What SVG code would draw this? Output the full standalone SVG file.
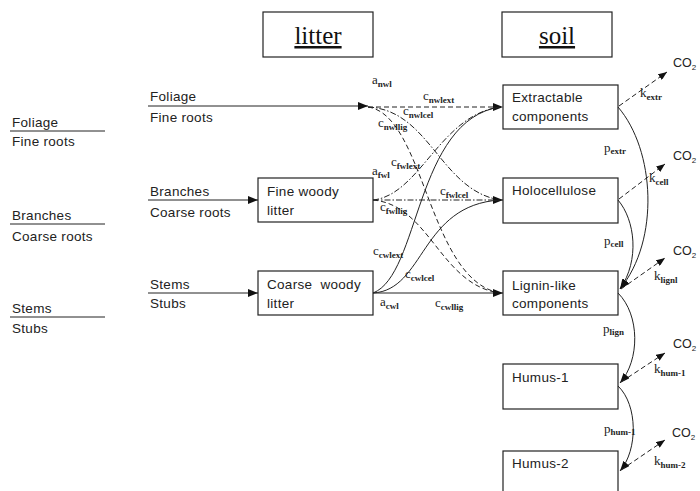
<svg xmlns="http://www.w3.org/2000/svg" width="700" height="491" viewBox="0 0 700 491">
<defs>
<marker id="ah" viewBox="0 0 10 8" refX="10" refY="4" markerWidth="10" markerHeight="8" markerUnits="userSpaceOnUse" orient="auto"><path d="M0,0 L10,4 L0,8 z" fill="#111"/></marker>
<marker id="ahs" viewBox="0 0 10 8" refX="10" refY="4" markerWidth="9" markerHeight="7" markerUnits="userSpaceOnUse" orient="auto"><path d="M0,0 L10,4 L0,8 z" fill="#111"/></marker>
</defs>
<style>
.t{font-family:"Liberation Sans",Arial,sans-serif;font-size:13.5px;letter-spacing:0.3px;fill:#222}
.co{font-family:"Liberation Sans",Arial,sans-serif;font-size:12.5px;fill:#222}
.s{font-family:"Liberation Serif","Times New Roman",serif;font-size:13px;fill:#222}
.sub{font-size:9px;font-weight:bold}
.h{font-family:"Liberation Serif","Times New Roman",serif;font-size:25px;fill:#111;text-decoration:underline}
.box{fill:#fff;stroke:#222;stroke-width:1.2}
.ln{fill:none;stroke:#222;stroke-width:1}
.dash{stroke-dasharray:5 3}
.dd{stroke-dasharray:6 2 1.5 2}
</style>
<rect width="700" height="491" fill="#fff"/>

<g id="header-litter"><rect class="box" x="263" y="12" width="110" height="45"/><text class="h" x="318" y="44" text-anchor="middle">litter</text></g>
<g id="header-soil"><rect class="box" x="502" y="12" width="110" height="45"/><text class="h" x="557" y="44" text-anchor="middle">soil</text></g>

<g id="inputs-left">
<text class="t" x="12" y="127">Foliage</text><line class="ln" x1="10" y1="131" x2="105" y2="131"/><text class="t" x="12" y="146">Fine roots</text>
<text class="t" x="12" y="220">Branches</text><line class="ln" x1="10" y1="224" x2="105" y2="224"/><text class="t" x="12" y="241">Coarse roots</text>
<text class="t" x="12" y="313">Stems</text><line class="ln" x1="10" y1="317" x2="105" y2="317"/><text class="t" x="12" y="333">Stubs</text>
</g>

<g id="input-foliage"><text class="t" x="150" y="101">Foliage</text><text class="t" x="150" y="122">Fine roots</text></g>
<g id="input-branches"><text class="t" x="150" y="196">Branches</text><text class="t" x="150" y="217">Coarse roots</text></g>
<g id="input-stems"><text class="t" x="150" y="289">Stems</text><text class="t" x="150" y="308">Stubs</text></g>

<g id="fine-woody-litter"><rect class="box" x="258" y="178" width="115" height="44"/><text class="t" x="267" y="196">Fine woody</text><text class="t" x="267" y="215">litter</text></g>
<g id="coarse-woody-litter"><rect class="box" x="258" y="271" width="115" height="44"/><text class="t" x="267" y="289" xml:space="preserve">Coarse  woody</text><text class="t" x="267" y="308">litter</text></g>

<g id="extractable"><rect class="box" x="503" y="85" width="115" height="44"/><text class="t" x="512" y="102">Extractable</text><text class="t" x="512" y="121">components</text></g>
<g id="holocellulose"><rect class="box" x="503" y="178" width="115" height="45"/><text class="t" x="512" y="195">Holocellulose</text></g>
<g id="lignin"><rect class="box" x="503" y="271" width="115" height="44"/><text class="t" x="512" y="290">Lignin-like</text><text class="t" x="512" y="308">components</text></g>
<g id="humus-1"><rect class="box" x="503" y="364" width="115" height="45"/><text class="t" x="512" y="382">Humus-1</text></g>
<g id="humus-2"><rect class="box" x="503" y="451" width="115" height="50"/><text class="t" x="512" y="468">Humus-2</text></g>

<g id="connectors">
<line class="ln" x1="148" y1="106" x2="368" y2="106" marker-end="url(#ah)"/>
<line class="ln" x1="148" y1="200" x2="258" y2="200" marker-end="url(#ah)"/>
<line class="ln" x1="148" y1="293" x2="258" y2="293" marker-end="url(#ah)"/>

<path class="ln dash" d="M368,107 L503,107" marker-end="url(#ah)"/>
<path class="ln dd" d="M368,107 C430,110 440,190 500,200"/>
<path class="ln dash" d="M368,107 C425,115 428,280 500,293"/>

<path class="ln dd" d="M373,200 C420,195 440,115 500,107"/>
<path class="ln dd" d="M373,200 L503,200" marker-end="url(#ah)"/>
<path class="ln dash" d="M373,200 C430,205 440,285 500,293"/>

<path class="ln" d="M373,293 C420,275 415,120 500,107"/>
<path class="ln" d="M373,293 C425,290 420,205 500,200"/>
<path class="ln" d="M373,293 L503,293" marker-end="url(#ah)"/>

<path class="ln" d="M618,107 C655,150 660,240 620,289" marker-end="url(#ah)"/>
<path class="ln" d="M618,200 C635,220 640,260 620,289" marker-end="url(#ah)"/>
<path class="ln" d="M618,293 C640,315 640,360 620,383" marker-end="url(#ah)"/>
<path class="ln" d="M618,386 C638,405 638,450 620,471" marker-end="url(#ah)"/>

<path class="ln dash" d="M619,106 L667,72" marker-end="url(#ahs)"/>
<path class="ln dash" d="M619,199 L665,164" marker-end="url(#ahs)"/>
<path class="ln dash" d="M621,289 L665,258" marker-end="url(#ahs)"/>
<path class="ln dash" d="M621,382 L665,353" marker-end="url(#ahs)"/>
<path class="ln dash" d="M621,470 L665,440" marker-end="url(#ahs)"/>
</g>

<g id="flow-labels">
<text class="s" x="372" y="84">a<tspan class="sub" dy="3">nwl</tspan></text>
<text class="s" x="423" y="100">c<tspan class="sub" dy="3">nwlext</tspan></text>
<text class="s" x="403" y="115">c<tspan class="sub" dy="3">nwlcel</tspan></text>
<text class="s" x="378" y="127">c<tspan class="sub" dy="3">nwllig</tspan></text>
<text class="s" x="391" y="166">c<tspan class="sub" dy="3">fwlext</tspan></text>
<text class="s" x="372" y="175">a<tspan class="sub" dy="3">fwl</tspan></text>
<text class="s" x="440" y="195">c<tspan class="sub" dy="3">fwlcel</tspan></text>
<text class="s" x="380" y="211">c<tspan class="sub" dy="3">fwllig</tspan></text>
<text class="s" x="373" y="255">c<tspan class="sub" dy="3">cwlext</tspan></text>
<text class="s" x="405" y="278">c<tspan class="sub" dy="3">cwlcel</tspan></text>
<text class="s" x="380" y="306">a<tspan class="sub" dy="3">cwl</tspan></text>
<text class="s" x="435" y="307">c<tspan class="sub" dy="3">cwllig</tspan></text>

<text class="s" x="604" y="152">p<tspan class="sub" dy="2">extr</tspan></text>
<text class="s" x="604" y="245">p<tspan class="sub" dy="2">cell</tspan></text>
<text class="s" x="603" y="333">p<tspan class="sub" dy="2">lign</tspan></text>
<text class="s" x="604" y="433">p<tspan class="sub" dy="2">hum-1</tspan></text>

<text class="s" x="640" y="97">k<tspan class="sub" dy="3">extr</tspan></text>
<text class="s" x="649" y="182">k<tspan class="sub" dy="3">cell</tspan></text>
<text class="s" x="654" y="280">k<tspan class="sub" dy="3">lignl</tspan></text>
<text class="s" x="654" y="373">k<tspan class="sub" dy="3">hum-1</tspan></text>
<text class="s" x="654" y="465">k<tspan class="sub" dy="3">hum-2</tspan></text>

<text class="co" x="673" y="67">CO<tspan font-size="8" dy="3">2</tspan></text>
<text class="co" x="673" y="160">CO<tspan font-size="8" dy="3">2</tspan></text>
<text class="co" x="673" y="255">CO<tspan font-size="8" dy="3">2</tspan></text>
<text class="co" x="673" y="348">CO<tspan font-size="8" dy="3">2</tspan></text>
<text class="co" x="672" y="437">CO<tspan font-size="8" dy="3">2</tspan></text>
</g>
</svg>
